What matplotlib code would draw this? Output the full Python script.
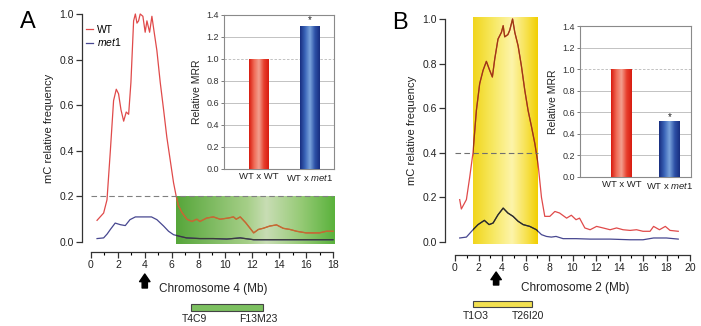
import numpy as np
import matplotlib
matplotlib.use('Agg')
import matplotlib.pyplot as plt
from matplotlib.colors import LinearSegmentedColormap
from matplotlib.patches import Rectangle
from matplotlib.transforms import blended_transform_factory

plt.rcParams['font.family'] = ['Liberation Sans', 'DejaVu Sans']
plt.rcParams['mathtext.fontset'] = 'custom'
plt.rcParams['mathtext.it'] = 'Liberation Sans:italic'
plt.rcParams['mathtext.rm'] = 'Liberation Sans'

# ---- data ----
wt_a_x = [0.45, 0.94, 1.19, 1.44, 1.68, 1.88, 2.05, 2.23, 2.43, 2.62, 2.8, 2.97, 3.17, 3.3, 3.42,
          3.54, 3.66, 3.86, 4.03, 4.16, 4.36, 4.53, 4.65, 4.9, 5.15, 5.4, 5.64, 5.89, 6.14, 6.34,
          6.5, 6.76, 7.13, 7.5, 7.87, 8.1, 8.6, 9.1, 9.6, 10.2, 10.6, 10.8, 11.1, 11.5, 11.7,
          12.1, 12.45, 12.8, 13.3, 13.8, 14.3, 14.8, 15.3, 16.0, 16.5, 17.0, 17.5, 18.0]
wt_a_y = [0.095, 0.127, 0.185, 0.40, 0.62, 0.67, 0.65, 0.58, 0.53, 0.57, 0.56, 0.70, 0.97, 1.0, 0.96,
          0.97, 1.0, 0.99, 0.92, 0.97, 0.92, 0.99, 0.94, 0.84, 0.70, 0.58, 0.46, 0.36, 0.26, 0.20,
          0.16, 0.13, 0.10, 0.09, 0.10, 0.09, 0.105, 0.11, 0.10, 0.105, 0.11, 0.10, 0.11, 0.085, 0.07,
          0.04, 0.055, 0.06, 0.07, 0.075, 0.06, 0.055, 0.047, 0.04, 0.04, 0.04, 0.047, 0.047]
met1_a_x = [0.45, 0.94, 1.2, 1.44, 1.8, 2.18, 2.55, 2.9, 3.3, 3.9, 4.5, 4.9, 5.4, 5.77, 6.14, 6.6,
            7.1, 8.1, 9.1, 10.1, 11.1, 12.1, 13.1, 14.3, 15.5, 16.5, 18.0]
met1_a_y = [0.015, 0.018, 0.035, 0.055, 0.083, 0.076, 0.072, 0.098, 0.11, 0.11, 0.11, 0.098, 0.07,
            0.047, 0.032, 0.025, 0.018, 0.015, 0.015, 0.013, 0.018, 0.01, 0.01, 0.01, 0.01, 0.01, 0.01]

wt_b_x = [0.4, 0.54, 0.97, 1.25, 1.53, 1.82, 2.1, 2.39, 2.67, 2.95, 3.18, 3.38, 3.66, 3.95, 4.1,
          4.23, 4.5, 4.66, 4.9, 5.09, 5.37, 5.65, 5.94, 6.22, 6.5, 6.8, 7.07, 7.36, 7.64, 8.07,
          8.5, 8.9, 9.5, 9.9, 10.3, 10.6, 11.05, 11.5, 12.05, 12.6, 13.2, 13.75, 14.3, 14.9, 15.45,
          16.0, 16.6, 16.9, 17.4, 17.9, 18.3, 19.0]
wt_b_y = [0.19, 0.148, 0.19, 0.29, 0.40, 0.59, 0.71, 0.77, 0.81, 0.77, 0.74, 0.82, 0.91, 0.94, 0.97,
          0.92, 0.93, 0.95, 1.0, 0.94, 0.88, 0.79, 0.68, 0.59, 0.52, 0.44, 0.35, 0.20, 0.115, 0.115,
          0.137, 0.13, 0.107, 0.12, 0.10, 0.107, 0.063, 0.055, 0.07, 0.063, 0.055, 0.063, 0.055, 0.052,
          0.055, 0.048, 0.048, 0.07, 0.055, 0.07, 0.052, 0.048]
met1_b_x = [0.4, 0.97, 1.53, 1.96, 2.5, 2.9, 3.24, 3.66, 4.1, 4.5, 4.94, 5.37, 5.8, 6.36, 6.93,
            7.36, 7.78, 8.2, 8.6, 9.2, 10.3, 11.5, 13.2, 14.9, 16.0, 16.9, 18.0, 19.0]
met1_b_y = [0.018, 0.022, 0.055, 0.078, 0.097, 0.078, 0.085, 0.122, 0.152, 0.13, 0.115, 0.093,
            0.078, 0.07, 0.055, 0.033, 0.025, 0.022, 0.025, 0.015, 0.015, 0.013, 0.013, 0.01, 0.01,
            0.018, 0.018, 0.013]

crosses = ['WT x WT', 'WT x $\\mathit{met1}$']
mrr_a = [1.0, 1.3]
mrr_b = [1.0, 0.52]

# region boxes, thresholds, arrows, BAC clones
box_a = (6.3, 18.1, -0.01, 0.2)
box_b = (1.53, 7.06, -0.01, 1.005)
thresh_a, thresh_b = 0.2, 0.4
arrow_a, arrow_b = 4.0, 3.5
bac_a = (7.44, 12.8, 'T4C9', 'F13M23')
bac_b = (1.53, 6.55, 'T1O3', 'T26I20')

RED = '#e04a4a'
BLUE = '#474790'

W, H = 701, 326
fig = plt.figure(figsize=(W / 100, H / 100), dpi=100)


def px_axes(l, t, r, b):
    return fig.add_axes([l / W, 1 - b / H, (r - l) / W, (b - t) / H])


def style_main(ax, xmax, left_out, bottom_out):
    for s in ['top', 'right']:
        ax.spines[s].set_visible(False)
    ax.spines['left'].set_position(('outward', left_out * 0.72))
    ax.spines['bottom'].set_position(('outward', bottom_out * 0.72))
    ax.spines['left'].set_bounds(0, 1)
    ax.spines['bottom'].set_bounds(0, xmax)
    for s in ['left', 'bottom']:
        ax.spines[s].set_color('#333333')
        ax.spines[s].set_linewidth(0.9)
    ax.set_yticks(np.arange(0, 1.01, 0.2))
    ax.set_yticklabels(['%.1f' % v for v in np.arange(0, 1.01, 0.2)])
    ax.set_xticks(range(0, xmax + 1, 2))
    ax.set_xticks(range(0, xmax + 1, 1), minor=True)
    ax.tick_params(labelsize=7.5, length=4, width=0.9, color='#333333', pad=2, labelcolor='#222222')
    ax.tick_params(which='minor', length=2.2, width=0.8)
    ax.patch.set_visible(False)
    ax.set_ylabel('mC relative frequency', fontsize=8, color='#222222', labelpad=4)


def region(ax, box, cmap, wt_x, wt_y, m_x, m_y, wt_dark, m_dark):
    x0, x1, y0, y1 = box
    grad = np.linspace(0, 1, 256).reshape(1, -1)
    ax.imshow(grad, extent=[x0, x1, y0, y1], aspect='auto', cmap=cmap, zorder=1)
    rect = Rectangle((x0, y0), x1 - x0, y1 - y0, facecolor='none', edgecolor='none')
    ax.add_patch(rect)
    ax.plot(wt_x, wt_y, color=RED, lw=0.9, zorder=2)
    ax.plot(m_x, m_y, color=BLUE, lw=0.9, zorder=2)
    l1, = ax.plot(wt_x, wt_y, color=wt_dark, lw=0.9, zorder=2.5)
    l1.set_clip_path(rect)
    l2, = ax.plot(m_x, m_y, color=m_dark, lw=0.9, zorder=2.5)
    l2.set_clip_path(rect)


def below(ax, arrow_x, arrow_px, xlabel, xlabel_pos, bac, bac_px, fill, label_py):
    tr = blended_transform_factory(ax.transData, fig.transFigure)
    ax.annotate('', xy=(arrow_x, 1 - arrow_px[0] / H), xycoords=tr,
                xytext=(arrow_x, 1 - arrow_px[1] / H), textcoords=tr,
                arrowprops=dict(arrowstyle='simple,head_width=0.75,head_length=0.55,tail_width=0.38',
                                fc='black', ec='black', shrinkA=0, shrinkB=0),
                annotation_clip=False)
    ax.text(xlabel_pos[0], 1 - xlabel_pos[1] / H, xlabel, transform=tr, ha='center', va='center',
            fontsize=8.5, color='#222222')
    b0, b1, n0, n1 = bac
    ax.add_patch(Rectangle((b0, 1 - bac_px[1] / H), b1 - b0, (bac_px[1] - bac_px[0]) / H,
                           transform=tr, clip_on=False, facecolor=fill, edgecolor='#444444', lw=0.8))
    ax.text(b0 + 0.25, 1 - label_py / H, n0, transform=tr, ha='center', va='center', fontsize=7.5,
            color='#222222')
    ax.text(b1 - 0.35, 1 - label_py / H, n1, transform=tr, ha='center', va='center', fontsize=7.5,
            color='#222222')


def inset(l, t, r, b, xlim, width, vals, star_y):
    ins = px_axes(l, t, r, b)
    ins.set_xlim(*xlim)
    ins.set_ylim(0, 1.4)
    ins.set_facecolor('white')
    bars = ins.bar([0, 1], vals, width=width, color=['#e8281e', '#1f3f9a'], zorder=3)
    cmaps = [LinearSegmentedColormap.from_list('r', ['#d81c10', '#f06a55', '#f2a090', '#e8402e', '#d81c10']),
             LinearSegmentedColormap.from_list('b', ['#182e80', '#3a64b8', '#7aa4dc', '#2e52a8', '#182e80'])]
    grad = np.linspace(0, 1, 64).reshape(1, -1)
    for bar, cm_ in zip(bars, cmaps):
        x0 = bar.get_x()
        im = ins.imshow(grad, extent=[x0, x0 + bar.get_width(), 0, bar.get_height()],
                        aspect='auto', cmap=cm_, zorder=3.5)
        im.set_clip_path(bar)
    ins.set_xlim(*xlim)
    ins.set_ylim(0, 1.4)
    ins.set_yticks(np.arange(0, 1.41, 0.2))
    ins.set_yticklabels(['%.1f' % v for v in np.arange(0, 1.41, 0.2)])
    ins.set_xticks([0, 1])
    ins.set_xticklabels(crosses)
    ins.yaxis.grid(True, color='#b8b8b8', lw=0.6)
    ins.set_axisbelow(True)
    ins.get_ygridlines()[5].set_linestyle((0, (3, 2)))
    ins.tick_params(axis='y', labelsize=6.5, length=2, width=0.6, pad=1.5, color='#666666',
                    labelcolor='#333333')
    ins.tick_params(axis='x', labelsize=6.8, length=0, pad=2.5, labelcolor='#222222')
    for s in ins.spines.values():
        s.set_color('#8a8a8a')
        s.set_linewidth(0.8)
    ins.set_ylabel('Relative MRR', fontsize=7.5, color='#222222', labelpad=3)
    ins.text(1, star_y, '*', ha='center', va='center', fontsize=7, color='#222222')
    return ins


green = LinearSegmentedColormap.from_list('g', [(0, '#56a63a'), (0.45, '#a6cf88'), (0.57, '#c8ddb4'),
                                                 (0.78, '#98cb78'), (1, '#5ab23c')])
yellow = LinearSegmentedColormap.from_list('y', [(0, '#f1d51c'), (0.3, '#f7e860'), (0.6, '#fdf4aa'),
                                                  (0.85, '#f6df44'), (1, '#f2cf00')])

# ---- panel A ----
axA = px_axes(88.3, 9.44, 335.7, 246.56)
region(axA, box_a, green, wt_a_x, wt_a_y, met1_a_x, met1_a_y, '#c0702e', '#3a3a3a')
axA.plot([0, 18], [thresh_a, thresh_a], color='#808080', lw=0.8, ls=(0, (5, 3)), zorder=3)
axA.set_xlim(-0.2, 18.2)
axA.set_ylim(-0.02, 1.02)
style_main(axA, 18, 6.3, 5.4)
axA.plot([], [], color=RED, lw=0.9, label='WT')
axA.plot([], [], color=BLUE, lw=0.9, label='$\\mathit{met1}$')
axA.legend(loc='upper left', bbox_to_anchor=(-0.01, 0.935), frameon=False, fontsize=7.5,
           handlelength=0.7, handletextpad=0.4, borderpad=0, borderaxespad=0, labelspacing=0.15)
below(axA, arrow_a, (274, 288), 'Chromosome 4 (Mb)', (9.1, 289), bac_a, (304, 311), '#7cc060', 319)
fig.text(28 / W, 1 - 22 / H, 'A', fontsize=17, ha='center', va='center')
inset(224, 15, 334, 169, (-0.686, 1.47), 0.39, mrr_a, 1.35)

# ---- panel B ----
axB = px_axes(452.65, 14.54, 692.35, 246.46)
region(axB, box_b, yellow, wt_b_x, wt_b_y, met1_b_x, met1_b_y, '#9a3a12', '#2e2e1c')
axB.plot([0, 7.06], [thresh_b, thresh_b], color='#707070', lw=0.8, ls=(0, (5, 3)), zorder=3)
axB.set_xlim(-0.2, 20.2)
axB.set_ylim(-0.02, 1.02)
style_main(axB, 20, 7.65, 8.5)
below(axB, arrow_b, (272, 285), 'Chromosome 2 (Mb)', (10.2, 288), bac_b, (301, 307), '#f2e050', 316)
fig.text(400 / W, 1 - 23 / H, 'B', fontsize=17, ha='center', va='center')
inset(580, 26, 691, 177, (-0.86, 1.45), 0.42, mrr_b, 0.56)

fig.savefig('out.png', dpi=100)
